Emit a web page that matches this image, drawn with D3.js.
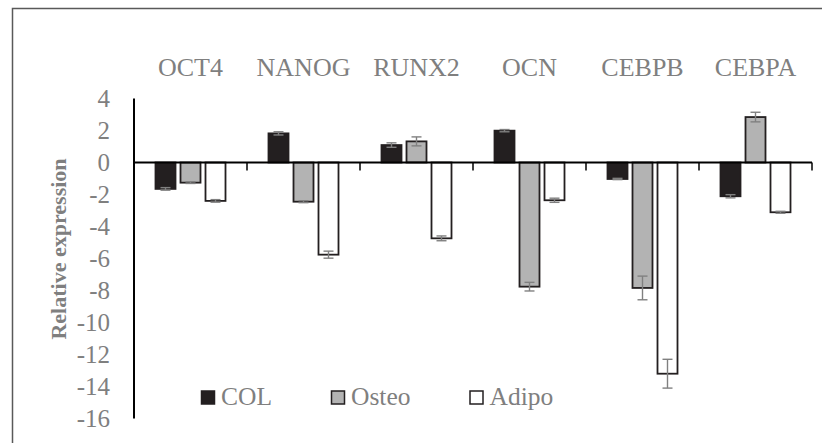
<!DOCTYPE html>
<html>
<head>
<meta charset="utf-8">
<script src="https://cdn.jsdelivr.net/npm/d3@7"></script>
<style>
  html, body { margin: 0; padding: 0; background: #fff; }
  svg { display: block; }
</style>
</head>
<body>
<svg id="chart" width="822" height="447"></svg>
<script>
const categories = ["OCT4", "NANOG", "RUNX2", "OCN", "CEBPB", "CEBPA"];
const seriesNames = ["COL", "Osteo", "Adipo"];
const colValues   = [-1.65, 1.82, 1.09, 1.99, -1.03, -2.11];
const osteoValues = [-1.26, -2.45, 1.32, -7.76, -7.84, 2.84];
const adipoValues = [-2.40, -5.76, -4.74, -2.36, -13.2, -3.11];
const colErrors   = [0.08, 0.10, 0.14, 0.07, 0.04, 0.10];
const osteoErrors = [0.05, 0.06, 0.28, 0.27, 0.74, 0.30];
const adipoErrors = [0.08, 0.22, 0.15, 0.13, 0.90, 0.06];
const yTicks = [4, 2, 0, -2, -4, -6, -8, -10, -12, -14, -16];

const values = [colValues, osteoValues, adipoValues];
const errors = [colErrors, osteoErrors, adipoErrors];
const fills = ["#231f20", "#b3b3b3", "#ffffff"];
const textColor = "#7f7f7f";
const serif = '"Liberation Serif"';

const svg = d3.select("#chart");

// outer frame (only top and left edges are visible in the picture)
svg.append("path")
  .attr("d", "M12.5,443 L12.5,8.5 L830,8.5")
  .attr("fill", "none").attr("stroke", "#595959").attr("stroke-width", 1.5);

const x0 = d3.scaleBand().domain(categories).range([134, 812]).padding(0);
const x1 = d3.scaleBand().domain(seriesNames).range([0, x0.bandwidth()])
  .paddingInner(0.2).paddingOuter(0.86);
const y = d3.scaleLinear().domain([-16, 4]).range([418.5, 98.5]);

const data = [];
categories.forEach((c, i) => {
  seriesNames.forEach((s, j) => {
    data.push({ c, s, j, v: values[j][i], e: errors[j][i] });
  });
});

// bars
svg.append("g").selectAll("rect").data(data).join("rect")
  .attr("x", d => x0(d.c) + x1(d.s))
  .attr("width", x1.bandwidth())
  .attr("y", d => y(Math.max(0, d.v)))
  .attr("height", d => Math.abs(y(d.v) - y(0)))
  .attr("fill", d => fills[d.j])
  .attr("stroke", "#231f20").attr("stroke-width", 1.8);

// error bars
const eg = svg.append("g").attr("stroke", "#808080").attr("stroke-width", 1.4).attr("fill", "none");
data.forEach(d => {
  const cx = x0(d.c) + x1(d.s) + x1.bandwidth() / 2;
  const y1 = y(d.v + d.e), y2 = y(d.v - d.e);
  eg.append("line").attr("x1", cx).attr("x2", cx).attr("y1", y1).attr("y2", y2);
  eg.append("line").attr("x1", cx - 5).attr("x2", cx + 5).attr("y1", y1).attr("y2", y1);
  eg.append("line").attr("x1", cx - 5).attr("x2", cx + 5).attr("y1", y2).attr("y2", y2);
});

// y axis
const yAxis = svg.append("g").attr("transform", "translate(134,0)")
  .call(d3.axisLeft(y).tickValues(yTicks).tickSize(0).tickPadding(24).tickFormat(d => String(d)));
yAxis.attr("font-family", null).attr("font-size", null);
yAxis.select(".domain").remove();
yAxis.selectAll("text").attr("fill", textColor).style("font-family", serif).style("font-size", "25px");
svg.append("line").attr("x1", 134).attr("x2", 134).attr("y1", y(4)).attr("y2", y(-16))
  .attr("stroke", "#000").attr("stroke-width", 2);

// x axis line at zero with boundary ticks
svg.append("line").attr("x1", 134).attr("x2", 812).attr("y1", y(0)).attr("y2", y(0))
  .attr("stroke", "#000").attr("stroke-width", 2);
svg.append("g").selectAll("line").data(categories).join("line")
  .attr("x1", c => x0(c) + x0.bandwidth()).attr("x2", c => x0(c) + x0.bandwidth())
  .attr("y1", y(0)).attr("y2", y(0) + 8)
  .attr("stroke", "#000").attr("stroke-width", 1.5);

// category labels at top
const xTop = svg.append("g").attr("transform", "translate(0,76)")
  .call(d3.axisTop(x0).tickSize(0).tickPadding(0));
xTop.attr("font-family", null).attr("font-size", null);
xTop.select(".domain").remove();
xTop.selectAll("text").attr("fill", textColor).style("font-family", serif).style("font-size", "26px");

// y title
svg.append("text")
  .attr("transform", "translate(66,249) rotate(-90)")
  .attr("text-anchor", "middle")
  .attr("fill", textColor)
  .style("font-family", serif).style("font-size", "22px").style("font-weight", "bold")
  .text("Relative expression");

// legend
const leg = svg.append("g");
let lx = 201;
seriesNames.forEach((s, j) => {
  leg.append("rect").attr("x", lx + 0.5).attr("y", 391).attr("width", 13).attr("height", 13)
    .attr("fill", fills[j]).attr("stroke", "#231f20").attr("stroke-width", 1.5);
  const t = leg.append("text").attr("x", lx + 20).attr("y", 405)
    .attr("fill", textColor).style("font-family", serif).style("font-size", "25.5px").text(s);
  lx = lx + 20 + t.node().getComputedTextLength() + 59;
});
</script>
</body>
</html>
